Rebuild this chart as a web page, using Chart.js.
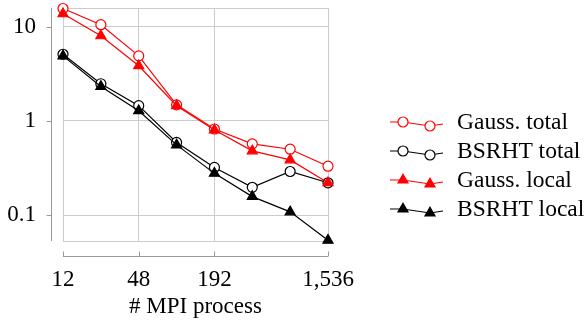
<!DOCTYPE html>
<html>
<head>
<meta charset="utf-8">
<script src="https://cdn.jsdelivr.net/npm/chart.js@4.4.0/dist/chart.umd.min.js"></script>
<style>
  html, body { margin: 0; padding: 0; background: #fff; }
</style>
</head>
<body>
<canvas id="timing" width="587" height="322"></canvas>
<script>
// # MPI processes and run times (s)
const processes = [12, 24, 48, 96, 192, 384, 768, 1536];
const gaussTotal = [15.6, 10.5, 4.9, 1.48, 0.82, 0.57, 0.50, 0.33];
const bsrhtTotal = [5.1, 2.48, 1.45, 0.59, 0.32, 0.197, 0.29, 0.22];
const gaussLocal = [13.7, 8.0, 3.85, 1.45, 0.80, 0.48, 0.385, 0.22];
const bsrhtLocal = [4.9, 2.32, 1.28, 0.556, 0.277, 0.157, 0.108, 0.054];
const xTicks = [12, 48, 192, 1536];
const yTicks = [0.1, 1, 10];

const font = { family: '"Liberation Serif", "DejaVu Serif", serif', size: 23 };
const gridColor = "#cccccc";
const axisColor = "#999999";

const pts = vals => vals.map((v, i) => ({ x: processes[i], y: v }));

function series(label, vals, color, style, order) {
    const open = style === "circle";
    return {
        label: label,
        data: pts(vals),
        borderColor: color,
        borderWidth: 1.2,
        pointStyle: style,
        pointRadius: open ? 5 : 5.8,
        pointBorderWidth: 1.2,
        pointBorderColor: color,
        pointBackgroundColor: open ? "#ffffff" : color,
        tension: 0,
        clip: false,
        order: order,
    };
}

// frame, detached axis lines and the legend on the right
const decor = {
    id: "decor",
    beforeDatasetsDraw(chart) {
        const { ctx, chartArea: a } = chart;
        ctx.save();
        ctx.lineWidth = 1;
        ctx.strokeStyle = gridColor;
        ctx.strokeRect(Math.round(a.left) + 0.5, Math.round(a.top) + 0.5,
            Math.round(a.right - a.left), Math.round(a.bottom - a.top));

        ctx.strokeStyle = axisColor;
        ctx.beginPath();
        const yx = Math.round(a.left - 12) + 0.5;
        ctx.moveTo(yx, a.top);
        ctx.lineTo(yx, a.bottom);
        yTicks.forEach(v => {
            const py = Math.round(chart.scales.y.getPixelForValue(v)) + 0.5;
            ctx.moveTo(yx - 5, py);
            ctx.lineTo(yx, py);
        });
        const xy = Math.round(a.bottom + 15) + 0.5;
        ctx.moveTo(a.left, xy);
        ctx.lineTo(a.right, xy);
        xTicks.forEach(v => {
            const px = Math.round(chart.scales.x.getPixelForValue(v)) + 0.5;
            ctx.moveTo(px, xy);
            ctx.lineTo(px, xy - 5);
        });
        ctx.stroke();
        ctx.restore();
    },
    afterDraw(chart) {
        const ctx = chart.ctx;
        ctx.save();
        chart.data.datasets.forEach((ds, i) => {
            const y = 122 + i * 29;
            ctx.strokeStyle = ds.borderColor;
            ctx.lineWidth = ds.borderWidth;
            ctx.beginPath();
            ctx.moveTo(390, y);
            ctx.lineTo(403, y);
            ctx.lineTo(430, y + 4);
            ctx.lineTo(443, y + 2);
            ctx.stroke();
            ctx.fillStyle = ds.pointBackgroundColor;
            [[403, y], [430, y + 4]].forEach(([px, py]) => {
                Chart.helpers.drawPoint(ctx, {
                    pointStyle: ds.pointStyle,
                    radius: ds.pointRadius,
                    rotation: 0,
                    borderWidth: ds.pointBorderWidth,
                }, px, py);
            });
            ctx.fillStyle = "#000";
            ctx.font = '23.5px "Liberation Serif"';
            ctx.textBaseline = "middle";
            ctx.textAlign = "left";
            ctx.fillText(ds.label, 457, y + 1);
        });
        ctx.restore();
    },
};

new Chart(document.getElementById("timing"), {
    type: "line",
    data: {
        datasets: [
            series("Gauss. total", gaussTotal, "#ff0000", "circle", 3),
            series("BSRHT total", bsrhtTotal, "#000000", "circle", 2),
            series("Gauss. local", gaussLocal, "#ff0000", "triangle", 1),
            series("BSRHT local", bsrhtLocal, "#000000", "triangle", 0),
        ],
    },
    options: {
        responsive: false,
        animation: false,
        layout: { padding: { top: 8, right: 259, left: 0, bottom: 0 } },
        plugins: {
            legend: { display: false },
            tooltip: { enabled: false },
        },
        scales: {
            x: {
                type: "logarithmic",
                min: 12,
                max: 1536,
                afterBuildTicks: s => { s.ticks = xTicks.map(v => ({ value: v })); },
                afterFit: s => {
                    s.height = 81;
                    s.paddingLeft = 0;
                    s.paddingRight = 0;
                },
                grid: { color: gridColor, drawTicks: false },
                border: { display: false },
                ticks: {
                    font: font,
                    color: "#000",
                    padding: 25,
                    maxRotation: 0,
                    autoSkip: false,
                    callback: v => Number(v).toLocaleString("en-US"),
                },
                title: {
                    display: true,
                    text: "# MPI process",
                    font: font,
                    color: "#000",
                    padding: { top: 0, bottom: 1 },
                },
            },
            y: {
                type: "logarithmic",
                min: 0.053,
                max: 15.8,
                afterBuildTicks: s => { s.ticks = yTicks.map(v => ({ value: v })); },
                afterFit: s => {
                    s.width = 63;
                    s.paddingTop = 0;
                    s.paddingBottom = 0;
                },
                grid: { color: gridColor, drawTicks: false },
                border: { display: false },
                ticks: {
                    font: font,
                    color: "#000",
                    padding: 27,
                    callback: v => String(v),
                },
            },
        },
    },
    plugins: [decor],
});
</script>
</body>
</html>
